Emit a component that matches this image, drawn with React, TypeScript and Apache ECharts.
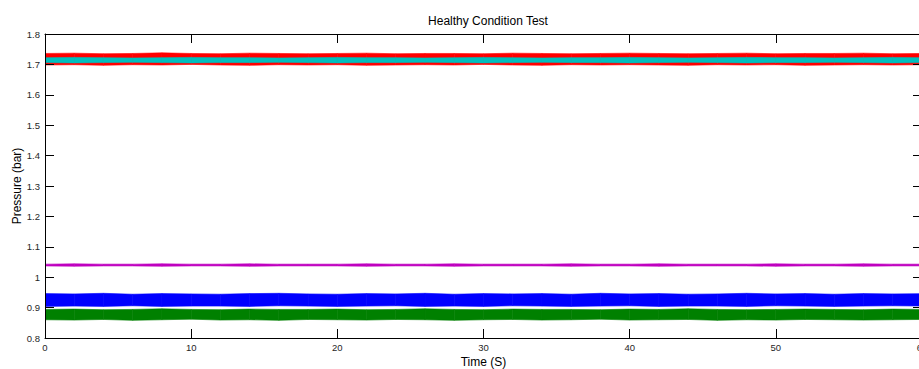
import React, { useEffect, useRef } from "react";
import * as echarts from "echarts";

const time = [0, 2, 4, 6, 8, 10, 12, 14, 16, 18, 20, 22, 24, 26, 28, 30, 32, 34, 36, 38, 40, 42, 44, 46, 48, 50, 52, 54, 56, 58, 60];

const redHi = [1.736, 1.737, 1.735, 1.736, 1.738, 1.736, 1.735, 1.737, 1.736, 1.735, 1.736, 1.737, 1.735, 1.736, 1.736, 1.735, 1.737, 1.736, 1.735, 1.736, 1.737, 1.736, 1.735, 1.736, 1.737, 1.735, 1.736, 1.736, 1.737, 1.735, 1.736];
const redLo = [1.698, 1.699, 1.697, 1.699, 1.698, 1.700, 1.698, 1.697, 1.699, 1.698, 1.699, 1.697, 1.698, 1.699, 1.698, 1.700, 1.698, 1.697, 1.699, 1.698, 1.699, 1.698, 1.697, 1.699, 1.698, 1.699, 1.697, 1.698, 1.699, 1.698, 1.699];
const cyanHi = [1.722, 1.723, 1.722, 1.721, 1.722, 1.723, 1.722, 1.722, 1.721, 1.722, 1.723, 1.722, 1.722, 1.721, 1.722, 1.723, 1.722, 1.721, 1.722, 1.722, 1.723, 1.722, 1.721, 1.722, 1.723, 1.722, 1.722, 1.721, 1.722, 1.723, 1.722];
const cyanLo = [1.706, 1.705, 1.706, 1.707, 1.706, 1.705, 1.706, 1.706, 1.707, 1.706, 1.705, 1.706, 1.706, 1.707, 1.706, 1.705, 1.706, 1.707, 1.706, 1.706, 1.705, 1.706, 1.707, 1.706, 1.705, 1.706, 1.706, 1.707, 1.706, 1.705, 1.706];
const magHi = [1.043, 1.044, 1.043, 1.043, 1.044, 1.043, 1.043, 1.044, 1.043, 1.043, 1.043, 1.044, 1.043, 1.043, 1.044, 1.043, 1.043, 1.043, 1.044, 1.043, 1.043, 1.044, 1.043, 1.043, 1.043, 1.044, 1.043, 1.043, 1.044, 1.043, 1.043];
const magLo = [1.037, 1.036, 1.037, 1.037, 1.036, 1.037, 1.037, 1.036, 1.037, 1.037, 1.037, 1.036, 1.037, 1.037, 1.036, 1.037, 1.037, 1.037, 1.036, 1.037, 1.037, 1.036, 1.037, 1.037, 1.037, 1.036, 1.037, 1.037, 1.036, 1.037, 1.037];
const blueHi = [0.946, 0.945, 0.947, 0.944, 0.946, 0.945, 0.944, 0.946, 0.947, 0.945, 0.944, 0.946, 0.945, 0.947, 0.944, 0.946, 0.945, 0.946, 0.944, 0.947, 0.945, 0.946, 0.944, 0.945, 0.947, 0.945, 0.946, 0.944, 0.946, 0.945, 0.946];
const blueLo = [0.904, 0.905, 0.904, 0.906, 0.904, 0.905, 0.905, 0.904, 0.906, 0.905, 0.904, 0.905, 0.906, 0.904, 0.905, 0.904, 0.906, 0.905, 0.904, 0.905, 0.906, 0.904, 0.905, 0.905, 0.904, 0.906, 0.905, 0.904, 0.905, 0.906, 0.905];
const greenHi = [0.894, 0.895, 0.893, 0.894, 0.896, 0.894, 0.893, 0.895, 0.894, 0.894, 0.895, 0.893, 0.894, 0.896, 0.894, 0.893, 0.895, 0.894, 0.894, 0.893, 0.895, 0.894, 0.896, 0.894, 0.893, 0.894, 0.895, 0.894, 0.893, 0.895, 0.894];
const greenLo = [0.860, 0.859, 0.861, 0.858, 0.860, 0.862, 0.859, 0.860, 0.858, 0.861, 0.860, 0.859, 0.861, 0.860, 0.858, 0.860, 0.861, 0.859, 0.860, 0.862, 0.859, 0.860, 0.861, 0.858, 0.860, 0.859, 0.861, 0.860, 0.859, 0.860, 0.861];

const xTicks = [0, 10, 20, 30, 40, 50, 60];
const yTicks = [0.8, 0.9, 1.0, 1.1, 1.2, 1.3, 1.4, 1.5, 1.6, 1.7, 1.8];

const bands = [
  { name: "Red", color: "#FF0000", hi: redHi, lo: redLo },
  { name: "Cyan", color: "#00BFBF", hi: cyanHi, lo: cyanLo },
  { name: "Magenta", color: "#BF00BF", hi: magHi, lo: magLo },
  { name: "Green", color: "#008000", hi: greenHi, lo: greenLo },
  { name: "Blue", color: "#0000FF", hi: blueHi, lo: blueLo },
];

const FONT = "Liberation Sans, Arial, sans-serif";

export default function App() {
  const ref = useRef<HTMLDivElement>(null);
  useEffect(() => {
    if (!ref.current) return;
    const chart = echarts.init(ref.current, null, { renderer: "svg" });
    const series: any[] = bands.map((b) => ({
      name: b.name,
      type: "custom",
      silent: true,
      clip: true,
      encode: { x: 0, y: [1, 2] },
      data: time.slice(0, -1).map((t, i) => [t, b.lo[i], b.hi[i], time[i + 1], b.lo[i + 1], b.hi[i + 1]]),
      renderItem: (params: any, api: any) => {
        const p1 = api.coord([api.value(0), api.value(1)]);
        const p2 = api.coord([api.value(0), api.value(2)]);
        const p3 = api.coord([api.value(3), api.value(5)]);
        const p4 = api.coord([api.value(3), api.value(4)]);
        return {
          type: "polygon",
          shape: { points: [p1, p2, p3, p4] },
          style: { fill: b.color, stroke: b.color, lineWidth: 0.6 },
        };
      },
    }));
    const tickStyle = { show: true, inside: true, length: 9, lineStyle: { color: "#000", width: 1 } };
    const axisLineStyle = { show: true, onZero: false, lineStyle: { color: "#000", width: 1 } };
    chart.setOption({
      animation: false,
      backgroundColor: "#fff",
      title: {
        text: "Healthy Condition Test",
        left: 483,
        textAlign: "center",
        top: 10,
        textStyle: { fontFamily: FONT, fontSize: 12, fontWeight: "normal", color: "#000" },
      },
      grid: { left: 45, right: 0, top: 34, bottom: 31, containLabel: false, outerBoundsMode: "none" },
      xAxis: [
        {
          type: "value",
          min: xTicks[0],
          max: xTicks[xTicks.length - 1],
          interval: 10,
          name: "Time (S)",
          nameLocation: "middle",
          nameGap: 18,
          nameMoveOverlap: false,
          nameTextStyle: { fontFamily: FONT, fontSize: 12, color: "#000" },
          axisLine: axisLineStyle,
          axisTick: tickStyle,
          splitLine: { show: false },
          axisLabel: { fontFamily: FONT, fontSize: 9.5, color: "#262626", margin: 4 },
          z: 10,
        },
        {
          type: "value",
          position: "top",
          min: xTicks[0],
          max: xTicks[xTicks.length - 1],
          interval: 10,
          axisLine: axisLineStyle,
          axisTick: tickStyle,
          splitLine: { show: false },
          axisLabel: { show: false },
          z: 10,
        },
      ],
      yAxis: [
        {
          type: "value",
          min: yTicks[0],
          max: yTicks[yTicks.length - 1],
          interval: 0.1,
          name: "Pressure (bar)",
          nameLocation: "middle",
          nameGap: 22,
          nameMoveOverlap: false,
          nameTextStyle: { fontFamily: FONT, fontSize: 12, color: "#000" },
          axisLine: axisLineStyle,
          axisTick: tickStyle,
          splitLine: { show: false },
          axisLabel: {
            fontFamily: FONT,
            fontSize: 9.5,
            color: "#262626",
            margin: 5,
            formatter: (v: number) => String(Math.round(v * 10) / 10),
          },
          z: 10,
        },
        {
          type: "value",
          position: "right",
          min: yTicks[0],
          max: yTicks[yTicks.length - 1],
          interval: 0.1,
          axisLine: axisLineStyle,
          axisTick: tickStyle,
          splitLine: { show: false },
          axisLabel: { show: false },
          z: 10,
        },
      ],
      series,
    });
    return () => chart.dispose();
  }, []);
  return (
    <div style={{ position: "fixed", left: 0, top: 0, width: 919, height: 369, overflow: "hidden", background: "#fff" }}>
      <div ref={ref} style={{ position: "absolute", left: 0, top: 0, width: 922, height: 369 }} />
    </div>
  );
}
